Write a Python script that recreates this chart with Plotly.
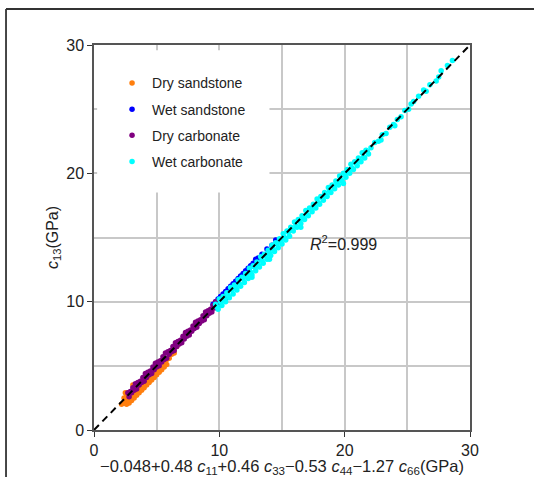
import plotly.graph_objects as go

# ---------------- data ----------------
dry_sand_x = [2.4, 2.6, 2.8, 3.0, 3.2, 3.4, 3.6, 3.8, 4.0, 4.2, 4.4, 4.6, 4.8, 5.0, 5.2, 5.4,
              2.2, 2.4, 2.6, 2.8, 3.0, 3.2, 3.4, 3.6, 3.8, 4.0, 4.2, 4.4, 4.6, 4.8, 5.0, 5.2, 5.4, 5.6, 5.8, 6.0, 6.2, 6.4,
              2.6, 2.8, 3.0, 3.2, 3.4, 3.6, 3.8, 4.0, 4.2, 4.4, 4.6, 4.8, 5.0, 5.2, 5.4, 5.6, 5.8,
              6.6, 2.5, 3.1]
dry_sand_y = [2.5, 2.6, 2.9, 3.0, 3.2, 3.5, 3.6, 3.8, 4.1, 4.2, 4.4, 4.6, 4.8, 5.0, 5.2, 5.4,
              2.0, 2.1, 2.3, 2.4, 2.6, 2.9, 3.0, 3.2, 3.5, 3.6, 3.9, 4.0, 4.2, 4.5, 4.6, 4.9, 5.0, 5.2, 5.5, 5.6, 5.9, 6.0,
              2.0, 2.1, 2.3, 2.5, 2.7, 2.9, 3.1, 3.3, 3.5, 3.7, 3.9, 4.1, 4.3, 4.5, 4.7, 4.9, 5.1,
              6.5, 2.9, 3.5]

wet_sand_x = [9.5, 9.7, 9.9, 10.1, 10.3, 10.5, 10.7, 10.9, 11.1, 11.3, 11.5, 11.7, 11.9, 12.1, 12.3, 12.5,
              12.7, 12.9, 13.1, 13.4, 13.8, 14.2, 14.5,
              9.6, 9.8, 10.0, 10.2, 10.4, 10.6, 10.8, 11.0, 11.2, 11.4, 11.6, 11.8, 12.0, 12.2, 12.4, 12.6, 12.8, 13.0]
wet_sand_y = [9.8, 10.0, 10.2, 10.4, 10.6, 10.8, 11.0, 11.2, 11.4, 11.6, 11.8, 12.0, 12.2, 12.4, 12.6, 12.8,
              13.0, 13.3, 13.4, 13.7, 14.1, 14.4, 14.8,
              9.7, 9.9, 10.2, 10.4, 10.5, 10.7, 11.0, 11.2, 11.3, 11.5, 11.8, 12.0, 12.1, 12.3, 12.6, 12.8, 12.9, 13.1]

dry_carb_x = [2.7, 2.9, 3.1, 3.3, 3.5, 3.7, 3.9, 4.1, 4.3, 4.5, 4.7, 4.9, 5.1, 5.3, 5.5, 5.7, 5.9, 6.1, 6.3, 6.5,
              6.7, 6.9, 7.1, 7.3, 7.5, 7.7, 7.9, 8.1, 8.3, 8.5, 8.7, 8.9, 9.1, 9.3, 9.5, 9.7, 9.9, 10.1, 10.3,
              2.8, 3.0, 3.2, 3.4, 3.6, 3.8, 4.0, 4.2, 4.4, 4.6, 4.8, 5.0, 5.2, 5.4, 5.6, 5.8, 6.0, 6.2, 6.4, 6.6,
              6.8, 7.0, 7.2, 7.4, 7.6, 7.8, 8.0, 8.2, 8.4, 8.6, 8.8, 9.0, 9.2, 9.4, 9.6, 9.8, 10.0, 10.2, 10.4, 10.6]
dry_carb_y = [2.9, 3.0, 3.3, 3.6, 3.7, 3.8, 4.1, 4.4, 4.5, 4.6, 4.9, 5.2, 5.3, 5.4, 5.7, 6.0, 6.1, 6.2, 6.5, 6.8,
              6.9, 7.0, 7.3, 7.6, 7.7, 7.8, 8.1, 8.4, 8.5, 8.6, 8.9, 9.2, 9.3, 9.4, 9.7, 10.0, 10.1, 10.2, 10.4,
              2.6, 2.9, 3.1, 3.2, 3.5, 3.7, 3.8, 4.1, 4.3, 4.4, 4.7, 4.9, 5.0, 5.3, 5.5, 5.6, 5.9, 6.1, 6.2, 6.5,
              6.7, 6.8, 7.1, 7.3, 7.4, 7.7, 7.9, 8.0, 8.3, 8.5, 8.6, 8.9, 9.1, 9.2, 9.5, 9.7, 9.8, 10.1, 10.2, 10.3]

wet_carb_x = [9.7, 10.0, 10.3, 10.6, 10.9, 11.2, 11.5, 11.8, 12.1, 12.4, 12.7, 13.0, 13.3, 13.6, 13.9, 14.2,
              14.5, 14.8, 15.1, 15.4, 15.7, 16.0, 16.3, 16.6, 16.9, 17.2, 17.5, 17.8, 18.1, 18.4, 18.7, 19.0,
              19.3, 19.6, 19.9, 20.2, 20.5, 20.8, 21.1, 21.4, 21.7,
              9.8, 10.1, 10.4, 10.7, 11.0, 11.3, 11.6, 11.9, 12.2, 12.5, 12.8, 13.1, 13.4, 13.7, 14.0, 14.3,
              14.6, 14.9, 15.2, 15.5, 15.8, 16.1, 16.4, 16.7, 17.0, 17.3, 17.6, 17.9, 18.2, 18.5, 18.8, 19.1,
              19.4, 19.7, 20.0, 20.3, 20.6, 20.9, 21.2, 21.5, 21.8, 22.1,
              9.9, 10.2, 10.5, 10.8, 11.1, 11.4, 11.7, 12.0, 12.3, 12.6, 12.9, 13.2, 13.5, 13.8, 14.1, 14.4,
              14.7, 15.0, 15.3, 15.6, 15.9, 16.2, 16.5, 16.8, 17.1, 17.4, 17.7, 18.0, 18.3, 18.6, 18.9, 19.2,
              19.5, 19.8, 20.1, 20.4, 20.7, 21.0, 21.3, 21.6, 21.9,
              22.4, 22.7, 23.0, 23.3, 23.6, 23.9, 24.2, 24.5, 24.8, 25.1, 25.5, 25.9, 26.3, 26.8, 27.3, 27.7,
              28.2, 28.6, 22.9, 24.0, 25.3, 26.5, 27.5,
              19.9, 14.0, 12.6, 16.5]
wet_carb_y = [9.8, 10.2, 10.4, 10.7, 11.1, 11.3, 11.7, 11.9, 12.2, 12.6, 12.8, 13.1, 13.5, 13.7, 14.0, 14.4,
              14.6, 14.9, 15.3, 15.5, 15.8, 16.2, 16.4, 16.7, 17.1, 17.3, 17.6, 18.0, 18.2, 18.5, 18.9, 19.1,
              19.4, 19.8, 20.0, 20.3, 20.7, 20.9, 21.2, 21.6, 21.8,
              9.6, 10.0, 10.2, 10.5, 10.9, 11.1, 11.4, 11.8, 12.0, 12.3, 12.7, 12.9, 13.2, 13.6, 13.8, 14.1,
              14.5, 14.7, 15.0, 15.4, 15.6, 15.9, 16.3, 16.5, 16.8, 17.2, 17.4, 17.7, 18.1, 18.3, 18.6, 19.0,
              19.2, 19.5, 19.9, 20.1, 20.4, 20.8, 21.0, 21.3, 21.7, 22.0,
              9.4, 9.7, 10.0, 10.3, 10.6, 10.9, 11.2, 11.5, 11.8, 12.1, 12.4, 12.7, 13.0, 13.3, 13.6, 13.9,
              14.2, 14.5, 14.8, 15.1, 15.5, 15.8, 16.1, 16.4, 16.7, 17.0, 17.3, 17.6, 17.9, 18.2, 18.5, 18.8,
              19.1, 19.4, 19.7, 20.0, 20.3, 20.6, 20.9, 21.2, 21.5,
              22.4, 22.5, 23.0, 23.1, 23.6, 23.8, 24.2, 24.4, 24.9, 25.0, 25.6, 26.0, 26.5, 26.9, 27.2, 28.0,
              28.4, 28.8, 22.6, 23.7, 25.4, 26.4, 27.5,
              19.2, 13.3, 11.9, 15.8]

line_x = [0, 30]
line_y = [0, 30]

series = [
    ("Dry sandstone", dry_sand_x, dry_sand_y, "#ff7f0e"),
    ("Wet sandstone", wet_sand_x, wet_sand_y, "#0000ff"),
    ("Dry carbonate", dry_carb_x, dry_carb_y, "#800080"),
    ("Wet carbonate", wet_carb_x, wet_carb_y, "#00ffff"),
]

FONT = "Liberation Sans, Arial, sans-serif"

fig = go.Figure()
for name, xs, ys, col in series:
    fig.add_trace(go.Scatter(x=xs, y=ys, mode="markers", name=name, legendgroup=name,
                             marker=dict(color=col, size=5.5, line=dict(width=0))))

fig.add_trace(go.Scatter(x=line_x, y=line_y, mode="lines", showlegend=False,
                         line=dict(color="black", width=2, dash="7px,5px")))

axis_common = dict(range=[0, 30], tickvals=[0, 10, 20, 30], showgrid=True, gridcolor="#c8c8c8",
                   gridwidth=1.5, showline=True, linecolor="#555555", linewidth=1.5, mirror=True,
                   ticks="outside", ticklen=5, tickcolor="#333333", zeroline=False, automargin=False,
                   minor=dict(dtick=5, showgrid=True, gridcolor="#c8c8c8", gridwidth=1.5, ticks=""),
                   tickfont=dict(size=16, color="#222222", family=FONT))

fig.update_layout(
    width=534, height=477,
    margin=dict(l=94, r=64, t=45, b=47, autoexpand=False),
    paper_bgcolor="white", plot_bgcolor="white",
    font=dict(family=FONT, size=16, color="#222222"),
    xaxis=dict(**axis_common,
               title=dict(text="−0.048+0.48 <i>c</i><sub>11</sub>+0.46 <i>c</i><sub>33</sub>−0.53 <i>c</i><sub>44</sub>−1.27 <i>c</i><sub>66</sub>(GPa)",
                          font=dict(size=16.5), standoff=19)),
    yaxis=dict(**axis_common,
               title=dict(text="<i>c</i><sub>13</sub>(GPa)", font=dict(size=16), standoff=4)),
    legend=dict(x=0.048, y=0.942, xanchor="left", yanchor="top", bgcolor="rgba(0,0,0,0)",
                font=dict(size=14, family=FONT), tracegroupgap=5, traceorder="grouped",
                itemsizing="trace"),
    showlegend=True,
    shapes=[
        dict(type="rect", xref="x", yref="y", x0=0.25, x1=14.0, y0=18.5, y1=29.6,
             fillcolor="white", line=dict(width=0), layer="between"),
        dict(type="line", xref="paper", yref="paper", x0=-0.234, x1=1.6, y0=1.0935, y1=1.0935,
             line=dict(color="#333333", width=1.8), layer="above"),
        dict(type="line", xref="paper", yref="paper", x0=-0.234, x1=-0.234, y0=-0.4, y1=1.0935,
             line=dict(color="#333333", width=1.8), layer="above"),
    ],
    annotations=[
        dict(x=17.1, y=14.6, xref="x", yref="y", text="<i>R</i><sup>2</sup>=0.999", showarrow=False,
             xanchor="left", yanchor="middle", font=dict(size=16, family=FONT, color="#222222")),
    ],
)

fig.write_html("out.html", config={"displayModeBar": False},
               post_script="document.body.style.margin='0px';document.body.style.overflow='hidden';")
